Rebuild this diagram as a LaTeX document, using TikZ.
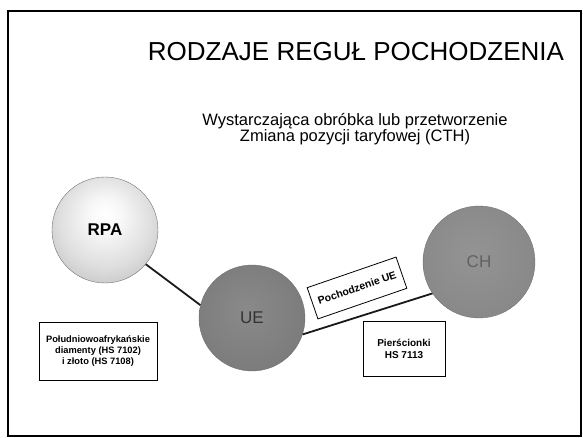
\documentclass[tikz,border=0pt]{standalone}
\usepackage{fontspec}
\setmainfont{Liberation Sans}
\pgfdeclareradialshading{rpashade}{\pgfpoint{0bp}{8bp}}{color(0bp)=(white); color(8bp)=(white!97!black); color(22bp)=(black!13); color(36bp)=(black!27); color(50bp)=(black!48)}
\pgfdeclareradialshading{ueshade}{\pgfpoint{-3bp}{4bp}}{color(0bp)=(black!46); color(30bp)=(black!52); color(50bp)=(black!62)}
\pgfdeclareradialshading{chshade}{\pgfpoint{-3bp}{4bp}}{color(0bp)=(black!42); color(30bp)=(black!47); color(50bp)=(black!58)}
\begin{document}
\begin{tikzpicture}[x=1pt,y=-1pt,
  country/.style={circle, minimum size=106pt, inner sep=0pt, draw=black!55, line width=0.4pt},
  lbl/.style={draw, line width=0.8pt, fill=white, align=center, inner sep=1.5pt,
    font=\bfseries\fontsize{10}{12}\selectfont},
  link/.style={line width=1.8pt, black!90}]
\useasboundingbox (0,0) rectangle (583,438);
\draw[line width=1.6pt] (8,11) rectangle (581,436);
\node (title) at (356,52) {\fontsize{26}{30}\selectfont RODZAJE REGUŁ POCHODZENIA};
\node[align=center] (sub) at (355,129) {\fontsize{16.5}{18}\selectfont Wystarczająca obróbka lub przetworzenie\\\fontsize{16.5}{18}\selectfont Zmiana pozycji taryfowej (CTH)};
\node[country, shade, shading=rpashade, font=\bfseries\fontsize{17}{20}\selectfont] (rpa) at (105,230) {RPA};
\node[country, shade, shading=ueshade, text=black!80, font=\fontsize{17}{20}\selectfont] (ue) at (252,318) {UE};
\node[country, minimum size=112pt, shade, shading=chshade, text=black!62, font=\fontsize{17}{20}\selectfont] (ch) at (479,262) {CH};
\draw[link] (rpa.-40) -- (ue.166);
\draw[link] (ue.-18) -- (ch.214);
\node[lbl, rotate=19, minimum width=94pt, minimum height=33pt, font=\bfseries\fontsize{10.5}{12}\selectfont] (poch) at (357,288) {Pochodzenie UE};
\node[lbl, minimum width=82pt, minimum height=55pt] (pier) at (404,349) {Pierścionki\\HS 7113};
\node[lbl, minimum width=118pt, minimum height=58pt, font=\bfseries\fontsize{9.3}{11}\selectfont] (diam) at (98,351) {Południowoafrykańskie\\diamenty (HS 7102)\\i złoto (HS 7108)};
\end{tikzpicture}
\end{document}
